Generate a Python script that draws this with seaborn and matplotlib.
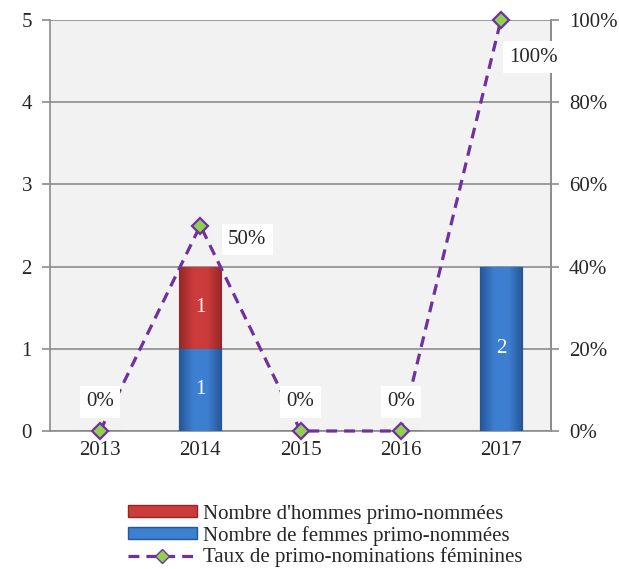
import matplotlib
matplotlib.use("Agg")
import matplotlib.pyplot as plt
import matplotlib.patches as mpatches
import matplotlib.lines as mlines
from matplotlib.colors import LinearSegmentedColormap
import seaborn as sns
import numpy as np

years = ["2013", "2014", "2015", "2016", "2017"]
hommes = [0, 1, 0, 0, 0]
femmes = [0, 1, 0, 0, 2]
taux = [0.0, 0.5, 0.0, 0.0, 1.0]
taux_labels = ["0%", "50%", "0%", "0%", "100%"]

sns.set_style("white")
plt.rcParams["font.family"] = ["Liberation Serif", "DejaVu Serif"]

FS = 15
red = "#cc3b3b"
red_dark = "#962626"
blue = "#3d7fd0"
blue_dark = "#25569a"
purple = "#7030a0"
green = "#8fd14f"
grid_c = "#8c8c8c"

fig = plt.figure(figsize=(6.19, 5.69), dpi=100)
ax = fig.add_axes([50 / 619, 1 - 431 / 569, 501 / 619, 411 / 569])
ax.set_facecolor("#f2f2f2")

totals = [h + f for h, f in zip(hommes, femmes)]
sns.barplot(x=years, y=totals, color=red, width=0.42, saturation=1,
            edgecolor=red_dark, linewidth=0.8, ax=ax, zorder=3)
n_red = len(ax.patches)
sns.barplot(x=years, y=femmes, color=blue, width=0.42, saturation=1,
            edgecolor=blue_dark, linewidth=0.8, ax=ax, zorder=4)

# shaded cylinder look: horizontal gradient clipped to each bar
def shade(patch, light, dark, z):
    x0, y0 = patch.get_x(), patch.get_y()
    w, h = patch.get_width(), patch.get_height()
    if h <= 0:
        return
    cmap = LinearSegmentedColormap.from_list("g", [dark, light, light, dark])
    grad = np.linspace(0, 1, 64).reshape(1, -1)
    im = ax.imshow(grad, cmap=cmap, aspect="auto", extent=(x0, x0 + w, y0, y0 + h),
                   zorder=z, interpolation="bicubic")
    im.set_clip_path(patch)

for k, p in enumerate(ax.patches):
    if k < n_red:
        shade(p, red, red_dark, 3.5)
    else:
        shade(p, blue, blue_dark, 4.5)

# value labels inside the bar segments
for i, (h, f) in enumerate(zip(hommes, femmes)):
    if f > 0:
        ax.text(i, f / 2, str(f), color="white", ha="center", va="center",
                fontsize=FS, zorder=6)
    if h > 0:
        ax.text(i, f + h / 2, str(h), color="white", ha="center", va="center",
                fontsize=FS, zorder=6)

ax.set_ylim(0, 5)
ax.set_xlim(-0.5, 4.5)
ax.set_yticks(range(6))
ax.yaxis.grid(True, color=grid_c, linewidth=1.2, zorder=0)
ax.set_axisbelow(True)
ax.spines["top"].set_visible(False)
for s in ["left", "right", "bottom"]:
    ax.spines[s].set_color(grid_c)
    ax.spines[s].set_linewidth(1.2)
ax.set_xticks(np.arange(5))
ax.set_xticks(np.arange(-0.5, 5, 1), minor=True)
ax.tick_params(axis="x", which="major", length=0, labelsize=FS, pad=7)
ax.tick_params(axis="x", which="minor", length=5, color=grid_c, width=1.2)
ax.tick_params(axis="y", length=6, color=grid_c, width=1.2, labelsize=FS, pad=7)
ax.set_xlabel("")
ax.set_ylabel("")

ax2 = ax.twinx()
ax2.set_ylim(0, 1)
ax2.set_yticks(np.linspace(0, 1, 6))
ax2.set_yticklabels([f"{int(round(v * 100))}%" for v in np.linspace(0, 1, 6)])
ax2.tick_params(axis="y", length=6, color=grid_c, width=1.2, labelsize=FS, pad=7)
for s in ["top", "left", "bottom"]:
    ax2.spines[s].set_visible(False)
ax2.spines["right"].set_color(grid_c)
ax2.spines["right"].set_linewidth(1.2)

dash = (0, (3.4, 2.2))
sns.lineplot(x=np.arange(5), y=taux, ax=ax2, color=purple, linewidth=2.3,
             linestyle=dash, marker="D", markersize=8,
             markerfacecolor=green, markeredgecolor=purple, markeredgewidth=1.6,
             zorder=5, clip_on=False)

# offsets of the percentage labels from their points, in pixels
offsets = [(0, 29), (47, -14), (0, 29), (0, 29), (33, -37)]
for i, (v, lab) in enumerate(zip(taux, taux_labels)):
    dx, dy = offsets[i]
    ax2.annotate(lab, (i, v), xytext=(dx * 0.72, dy * 0.72), textcoords="offset points",
                 ha="center", va="center", fontsize=FS, zorder=7,
                 bbox=dict(boxstyle="square,pad=0.3", fc="white", ec="none"))

handles = [
    mpatches.Patch(facecolor=red, edgecolor=red_dark, label="Nombre d'hommes primo-nommées"),
    mpatches.Patch(facecolor=blue, edgecolor=blue_dark, label="Nombre de femmes primo-nommées"),
    mlines.Line2D([], [], color=purple, linewidth=2.3, linestyle=dash, marker="D",
                  markersize=7, markerfacecolor=green, markeredgecolor=purple,
                  label="Taux de primo-nominations féminines"),
]
fig.legend(handles=handles, loc="center", bbox_to_anchor=(325 / 619, 1 - 536 / 569),
           frameon=False, fontsize=FS, handlelength=3.3, handleheight=0.45,
           labelspacing=0.1, handletextpad=0.3, borderpad=0.1)

fig.savefig("out.png", dpi=100)
